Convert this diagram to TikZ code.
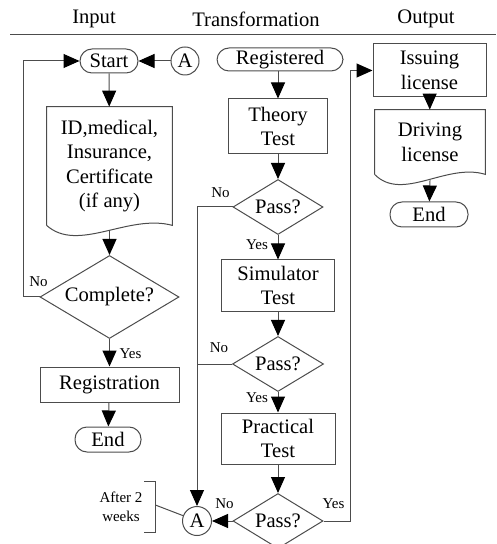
\documentclass[tikz,border=0pt]{standalone}
\usepackage{fontspec}
\setmainfont{Liberation Serif}
\usepackage{tikz}
\usetikzlibrary{shapes.geometric, arrows.meta, calc}
\tikzset{
    lin/.style={draw=black!70, line width=0.5pt},
    arr/.style={lin, -{Triangle[length=8pt,width=7pt,color=black]}},
    proc/.style={rectangle, lin, align=center, inner sep=1pt},
    term/.style={rectangle, lin, rounded corners=6pt, inner sep=1pt},
    decide/.style={diamond, lin, aspect=1.6, inner sep=0pt},
    conn/.style={circle, lin, minimum size=14pt, inner sep=0pt},
    docbox/.style={rectangle, align=center, inner sep=0pt},
    lbl/.style={font=\fontsize{7.5}{9.5}\selectfont, inner sep=0pt},
}
\newcommand{\docwave}[1]{
  \draw[lin] (#1.south west) -- (#1.north west) -- (#1.north east) -- (#1.south east)
    .. controls ($(#1.south east)!0.35!(#1.south west)+(0pt,6pt)$) and ($(#1.south east)!0.75!(#1.south west)+(0pt,-14pt)$) .. (#1.south west);
}
\begin{document}
\begin{tikzpicture}[
        x=0.5pt, y=-0.5pt,
        font=\fontsize{10.3}{12.3}\selectfont,
        ]
        \useasboundingbox (0,0) rectangle (496,544);

        \node (hinput) at (94,19) {Input};
        \node (htrans) at (256,19) {Transformation};
        \node (houtput) at (426,19) {Output};
        \draw[lin] (10,35) -- (496,35);

        \node[term, minimum width=29pt, minimum height=12pt] (start) at (109,61) {Start};
        \node[conn] (a1) at (185,61) {A};
        \node[docbox, minimum width=62.5pt, minimum height=59pt] (iddoc) at (109.5,166)
            {ID,medical,\\Insurance,\\Certificate\\(if any)};
        \docwave{iddoc}
        \coordinate (iddocw) at ([yshift=-3pt]iddoc.south);
        \node[decide, minimum width=69.5pt, minimum height=41.5pt] (complete) at (109.5,297) {Complete?};
        \node[proc, minimum width=69.5pt, minimum height=17.5pt] (reg) at (109.5,384.5) {Registration};
        \node[term, minimum width=33pt, minimum height=12.5pt] (end1) at (108,439.5) {End};

        \node[term, minimum width=63pt, minimum height=11.5pt] (registered) at (280,59.5) {Registered};
        \node[proc, minimum width=49.5pt, minimum height=27.5pt] (theory) at (278,126.5) {Theory\\Test};
        \node[decide, minimum width=45pt, minimum height=27.5pt] (pass1) at (278,207) {Pass?};
        \node[proc, minimum width=56.5pt, minimum height=25.5pt] (sim) at (278,285.5) {Simulator\\Test};
        \node[decide, minimum width=45.5pt, minimum height=27.5pt] (pass2) at (278,364) {Pass?};
        \node[proc, minimum width=57pt, minimum height=25.5pt] (prac) at (278,438.5) {Practical\\Test};
        \node[decide, minimum width=45pt, minimum height=27.5pt] (pass3) at (278,521) {Pass?};
        \node[conn, minimum size=14.5pt] (a2) at (197,521) {A};
        \node[lbl, align=center, minimum height=25pt, inner xsep=6.25pt] (note) at (121,507) {After 2\\weeks};
        \draw[lin] ([xshift=-5.5pt]note.north east) -- (note.north east) -- (note.south east) -- ++(-11,0);
        \draw[lin] ([yshift=1pt]note.east) -- (a2);

        \node[proc, minimum width=56.5pt, minimum height=26.5pt] (issue) at (429.5,70.5) {Issuing\\license};
        \node[docbox, minimum width=55pt, minimum height=32pt] (drive) at (430,142) {Driving\\license};
        \docwave{drive}
        \coordinate (drivew) at ([yshift=-3pt]drive.south);
        \node[term, minimum width=39pt, minimum height=12.5pt] (end2) at (429,214.5) {End};

        \path   (a1)        edge[arr]   (start)
                (start)     edge[arr]   (iddoc)
                (iddocw)    edge[arr]   (complete)
                (complete)  edge[arr]   (reg)
                (reg)       edge[arr]   (end1)
        ;
        \path   (theory.north |- registered.south) edge[arr] (theory)
                (theory)    edge[arr]   (pass1)
                (pass1)     edge[arr]   (sim)
                (sim)       edge[arr]   (pass2)
                (pass2)     edge[arr]   (prac)
                (prac)      edge[arr]   (pass3)
                (pass3)     edge[arr]   (a2)
        ;
        \path   (issue)     edge[arr]   (drive)
                (drivew)    edge[arr]   (end2)
        ;
        \draw[arr] (complete.west) -- ++(-16,0) |- (start);
        \draw[arr] (pass1.west) -| (a2);
        \draw[lin] (pass2.west) -- (pass2.west -| a2);
        \draw[arr] (pass3.east) -- ++(27,0) |- (issue);

        \node[lbl] (no1) at ([shift={(-1,-15)}]complete.west) {No};
        \node[lbl] (yes1) at ([shift={(21,15)}]complete.south) {Yes};
        \node[lbl] (no2) at ([shift={(-12,-14)}]pass1.west) {No};
        \node[lbl] (yes2) at ([shift={(-21,10)}]pass1.south) {Yes};
        \node[lbl] (no3) at ([shift={(-13,-16)}]pass2.west) {No};
        \node[lbl] (yes3) at ([shift={(-21,6)}]pass2.south) {Yes};
        \node[lbl] (no4) at ([shift={(-8,-17)}]pass3.west) {No};
        \node[lbl] (yes4) at ([shift={(10,-17)}]pass3.east) {Yes};
\end{tikzpicture}
\end{document}
